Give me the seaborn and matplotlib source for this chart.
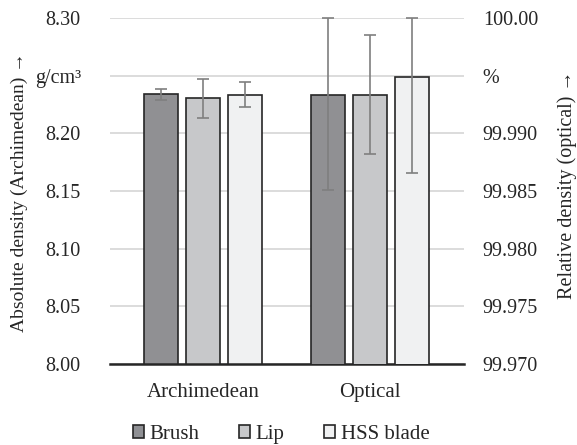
import numpy as np
import pandas as pd
import matplotlib
matplotlib.use("Agg")
import matplotlib.pyplot as plt
from matplotlib.patches import Patch
import seaborn as sns

# ---- data ----
groups = ["Archimedean", "Optical"]
materials = ["Brush", "Lip", "HSS blade"]
colors = ["#8f9094", "#c7c8ca", "#f0f1f2"]

arch_values = [8.2338, 8.2306, 8.2335]
arch_err_lower = [0.0046, 0.0170, 0.0107]
arch_err_upper = [0.0047, 0.0168, 0.0107]

opt_values = [99.9933, 99.9933, 99.9949]
opt_err_lower = [0.0082, 0.0051, 0.0083]
opt_err_upper = [0.0067, 0.0052, 0.0051]

left_ticks = [8.00, 8.05, 8.10, 8.15, 8.20, 8.25, 8.30]
left_labels = ["8.00", "8.05", "8.10", "8.15", "8.20", "g/cm³", "8.30"]
right_ticks = [99.970, 99.975, 99.980, 99.985, 99.990, 99.995, 100.00]
right_labels = ["99.970", "99.975", "99.980", "99.985", "99.990", "%", "100.00"]

left_title = "Absolute density (Archimedean) →"
right_title = "Relative density (optical) →"

# ---- style ----
sns.set_theme(style="white")
plt.rcParams["font.family"] = ["Liberation Serif", "DejaVu Serif"]
FS = 14.5
FS2 = 15
edge = "#262626"
errc = "#7f7f7f"

fig = plt.figure(figsize=(5.77, 4.45), dpi=100)
ax = fig.add_axes([110 / 577, 1 - 364 / 445, 354 / 577, 346 / 445])
ax2 = ax.twinx()

df_a = pd.DataFrame({"group": "Archimedean", "material": materials, "value": arch_values})
df_o = pd.DataFrame({"group": "Optical", "material": materials, "value": opt_values})

common = dict(x="group", y="value", hue="material", order=groups, hue_order=materials,
              palette=colors, width=0.75, gap=0.18, errorbar=None, edgecolor=edge,
              linewidth=1.2, legend=False)
sns.barplot(data=df_a, ax=ax, **common)
sns.barplot(data=df_o, ax=ax2, **common)


def bar_centers(a):
    ps = sorted([p for p in a.patches if p.get_height() != 0], key=lambda p: p.get_x())
    return [p.get_x() + p.get_width() / 2 for p in ps]


ax.set_ylim(8.00, 8.30)
ax2.set_ylim(99.970, 100.00)

xa = bar_centers(ax)
ax.errorbar(xa, arch_values, yerr=[arch_err_lower, arch_err_upper], fmt="none",
            ecolor=errc, elinewidth=1.2, capsize=4, capthick=1.2, zorder=5)
xo = bar_centers(ax2)
ax2.errorbar(xo, opt_values, yerr=[opt_err_lower, opt_err_upper], fmt="none",
             ecolor=errc, elinewidth=1.2, capsize=4, capthick=1.2, zorder=5, clip_on=False)

ax.set_xlim(-0.557, 1.563)

ax.set_yticks(left_ticks)
ax.set_yticklabels(left_labels, fontsize=FS)
ax2.set_yticks(right_ticks)
ax2.set_yticklabels(right_labels, fontsize=FS)
ax.set_xticks([0, 1])
ax.set_xticklabels(groups, fontsize=FS2)
ax.set_xlabel("")
ax2.set_xlabel("")

ax.tick_params(axis="y", length=0, pad=21)
ax2.tick_params(axis="y", length=0, pad=13.5)
ax.tick_params(axis="x", length=0, pad=13.5)

ax.yaxis.grid(True, color="#d9d9d9", linewidth=1.3)
ax.set_axisbelow(True)
ax2.grid(False)
for a in (ax, ax2):
    for s in ("top", "left", "right", "bottom"):
        a.spines[s].set_visible(False)
ax.spines["bottom"].set_visible(True)
ax.spines["bottom"].set_color(edge)
ax.spines["bottom"].set_linewidth(1.8)
ax.spines["bottom"].set_zorder(10)

ax.set_ylabel(left_title, fontsize=14)
ax.yaxis.set_label_coords((28 - 110) / 354, (364 - 192.5) / 346)
ax2.set_ylabel(right_title, fontsize=FS)
ax2.yaxis.set_label_coords((557 - 110) / 354, (364 - 184.5) / 346)

handles = [Patch(facecolor=c, edgecolor=edge, linewidth=1.2) for c in colors]
fig.legend(handles, materials, loc="center", bbox_to_anchor=(0.487, 0.024), ncol=3,
           frameon=False, fontsize=FS2, handlelength=0.55, handleheight=0.55,
           handletextpad=0.25, columnspacing=1.9)

fig.savefig("out.png", dpi=100)
